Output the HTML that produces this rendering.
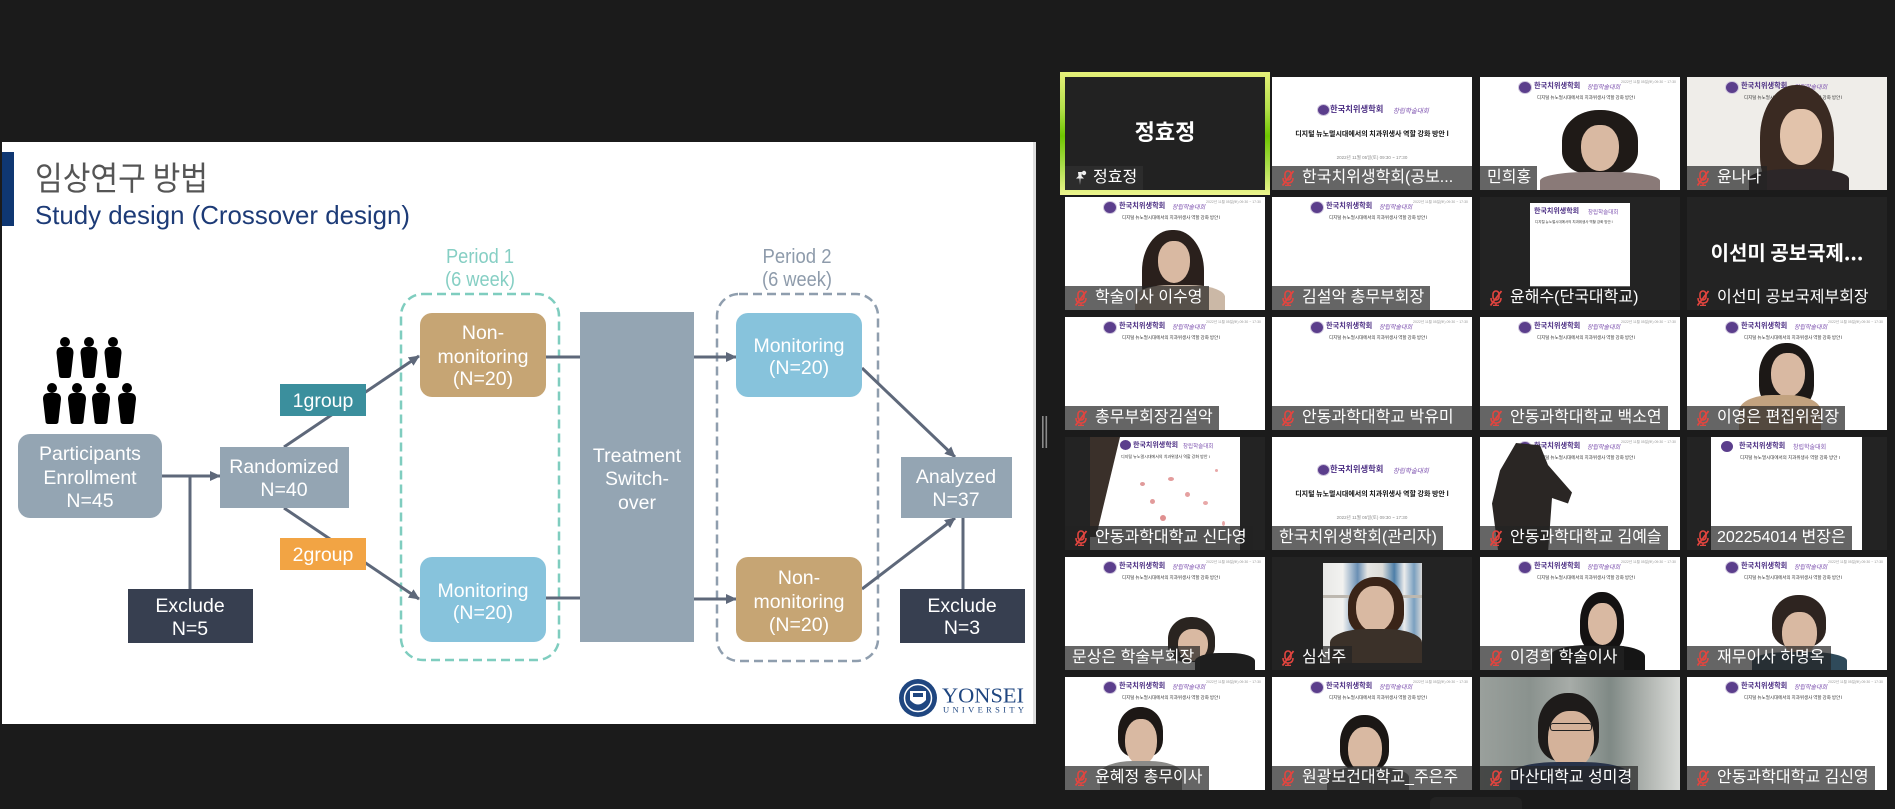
<!DOCTYPE html>
<html><head><meta charset="utf-8">
<style>
html,body{margin:0;padding:0}
body{width:1895px;height:809px;overflow:hidden;background:#1b1b1b;position:relative;font-family:"Liberation Sans","Noto Sans CJK KR",sans-serif}
.t{position:absolute;width:200px;height:113px;overflow:hidden;background:#fff}
.t.dk{background:#232323}
.lb{position:absolute;left:0;bottom:0;height:24px;line-height:24px;background:rgba(35,35,35,.7);color:#fff;font-size:16px;padding:0 6px 0 7px;white-space:nowrap;font-family:"Liberation Sans","Noto Sans CJK KR",sans-serif}
.lb.m{padding-left:30px}
.mic{position:absolute;left:8px;top:4px;width:16px;height:16px}
.lg{position:absolute;left:38px;top:4px;width:12px;height:11px;border-radius:50%;background:#5b3e8c;border:1px solid #cfc6dd}
.hb{position:absolute;left:54px;top:4px;font-size:7.2px;font-weight:bold;color:#4a2c82;font-family:"Noto Sans CJK KR",sans-serif;line-height:10px;white-space:nowrap}
.he{position:absolute;left:107px;top:6px;font-size:6px;color:#7b4fae;font-style:italic;font-family:"Noto Sans CJK KR",sans-serif;line-height:8px;white-space:nowrap}
.ht{position:absolute;left:57px;top:18px;font-size:4.5px;color:#333;font-family:"Noto Sans CJK KR",sans-serif;line-height:6px;white-space:nowrap}
.hdt{position:absolute;right:4px;top:3px;font-size:3.5px;color:#999;white-space:nowrap;line-height:5px}
.bl{position:absolute;left:45px;top:27px;width:11px;height:10px;border-radius:50%;background:#5b3e8c;border:1px solid #cfc6dd}
.bb{position:absolute;left:58px;top:26px;font-size:8.3px;font-weight:bold;color:#4a2c82;font-family:"Noto Sans CJK KR",sans-serif;line-height:12px;white-space:nowrap}
.be{position:absolute;left:121px;top:29px;font-size:6.5px;color:#7b4fae;font-style:italic;font-family:"Noto Sans CJK KR",sans-serif;line-height:9px;white-space:nowrap}
.bt{position:absolute;left:0;width:200px;top:53px;text-align:center;font-size:7px;font-weight:bold;color:#111;font-family:"Noto Sans CJK KR",sans-serif;line-height:9px;white-space:nowrap}
.bd{position:absolute;left:0;width:200px;top:78px;text-align:center;font-size:4.5px;color:#888;line-height:6px;white-space:nowrap}
.p{position:absolute}
.hair{background:#1f1a17;border-radius:48% 48% 35% 35%}
.face{background:#d9b9a2;border-radius:45% 45% 50% 50%}
.bod{border-radius:40% 40% 0 0}
</style></head><body>

<svg width="1895" height="809" style="position:absolute;left:0;top:0" xmlns="http://www.w3.org/2000/svg">
<defs>
<marker id="ar" markerWidth="11" markerHeight="10" refX="10" refY="5" orient="auto" markerUnits="userSpaceOnUse"><path d="M0,0 L11,5 L0,10 z" fill="#5e687a"/></marker>
</defs>
<rect x="2" y="142" width="1032" height="582" fill="#ffffff"/>
<rect x="1033" y="142" width="3" height="582" fill="#dedede"/>
<rect x="2" y="152" width="12" height="74" fill="#0f3772"/>
<text x="35" y="190" font-size="33" fill="#555555" textLength="173" lengthAdjust="spacingAndGlyphs" font-family="Noto Sans CJK KR, sans-serif">임상연구 방법</text>
<text x="35" y="224" font-size="26" fill="#1d3b77" textLength="375" lengthAdjust="spacingAndGlyphs" font-family="Liberation Sans, sans-serif">Study design (Crossover design)</text>

<g font-family="Liberation Sans, sans-serif" font-size="20" text-anchor="middle">
<text x="480" y="263" fill="#86cfc4" textLength="68" lengthAdjust="spacingAndGlyphs">Period 1</text>
<text x="480" y="286" fill="#86cfc4" textLength="70" lengthAdjust="spacingAndGlyphs">(6 week)</text>
<text x="797" y="263" fill="#8e9bab" textLength="69" lengthAdjust="spacingAndGlyphs">Period 2</text>
<text x="797" y="286" fill="#8e9bab" textLength="70" lengthAdjust="spacingAndGlyphs">(6 week)</text>
</g>
<rect x="401" y="294" width="158" height="366" rx="22" fill="none" stroke="#7fcdbf" stroke-width="2.5" stroke-dasharray="9 5"/>
<rect x="717" y="294" width="161" height="367" rx="22" fill="none" stroke="#8f9eae" stroke-width="2.5" stroke-dasharray="9 5"/>

<g fill="#000">
<circle cx="65" cy="342" r="5"/><circle cx="89" cy="342" r="5"/><circle cx="113" cy="342" r="5"/>
<path d="M56.5,353 Q56.5,347 62,347 L68,347 Q73.5,347 73.5,353 L71,375 Q71,378 68,378 L62,378 Q59,378 59,375 Z"/>
<path d="M80.5,353 Q80.5,347 86,347 L92,347 Q97.5,347 97.5,353 L95,375 Q95,378 92,378 L86,378 Q83,378 83,375 Z"/>
<path d="M104.5,353 Q104.5,347 110,347 L116,347 Q121.5,347 121.5,353 L119,375 Q119,378 116,378 L110,378 Q107,378 107,375 Z"/>
<circle cx="52" cy="388" r="5"/><circle cx="77" cy="388" r="5"/><circle cx="101" cy="388" r="5"/><circle cx="127" cy="388" r="5"/>
<path d="M43,399 Q43,393 49,393 L55,393 Q61,393 61,399 L58.5,421 Q58.5,424 55.5,424 L48.5,424 Q45.5,424 45.5,421 Z"/>
<path d="M68,399 Q68,393 74,393 L80,393 Q86,393 86,399 L83.5,421 Q83.5,424 80.5,424 L73.5,424 Q70.5,424 70.5,421 Z"/>
<path d="M92,399 Q92,393 98,393 L104,393 Q110,393 110,399 L107.5,421 Q107.5,424 104.5,424 L97.5,424 Q94.5,424 94.5,421 Z"/>
<path d="M118,399 Q118,393 124,393 L130,393 Q136,393 136,399 L133.5,421 Q133.5,424 130.5,424 L123.5,424 Q120.5,424 120.5,421 Z"/>
</g>

<g stroke="#5e687a" stroke-width="3" fill="none">
<line x1="162" y1="476" x2="220" y2="476" marker-end="url(#ar)"/>
<line x1="190" y1="476" x2="190" y2="589"/>
<line x1="284" y1="447" x2="419" y2="356" marker-end="url(#ar)"/>
<line x1="284" y1="508" x2="419" y2="599" marker-end="url(#ar)"/>
<line x1="546" y1="357" x2="580" y2="357"/>
<line x1="546" y1="598" x2="580" y2="598"/>
<line x1="694" y1="357" x2="736" y2="357" marker-end="url(#ar)"/>
<line x1="694" y1="599" x2="736" y2="599" marker-end="url(#ar)"/>
<line x1="862" y1="368" x2="955" y2="457" marker-end="url(#ar)"/>
<line x1="862" y1="589" x2="955" y2="518" marker-end="url(#ar)"/>
<line x1="963" y1="518" x2="963" y2="589"/>
</g>

<rect x="18" y="434" width="144" height="84" rx="12" fill="#94a5b3"/>
<rect x="220" y="447" width="129" height="61" fill="#94a5b3"/>
<rect x="128" y="589" width="125" height="54" fill="#373f50"/>
<rect x="280" y="384" width="86" height="32" fill="#3b8f9d"/>
<rect x="280" y="538" width="86" height="32" fill="#f2a444"/>
<rect x="420" y="313" width="126" height="84" rx="12" fill="#c6a574"/>
<rect x="420" y="557" width="126" height="85" rx="12" fill="#87c3dc"/>
<rect x="580" y="312" width="114" height="330" fill="#94a5b3"/>
<rect x="736" y="313" width="126" height="84" rx="12" fill="#87c3dc"/>
<rect x="736" y="557" width="126" height="85" rx="12" fill="#c6a574"/>
<rect x="901" y="457" width="111" height="61" fill="#94a5b3"/>
<rect x="900" y="589" width="125" height="54" fill="#373f50"/>

<g font-family="Liberation Sans, sans-serif" font-size="19.5" fill="#ffffff" text-anchor="middle">
<text x="90" y="460">Participants</text>
<text x="90" y="484">Enrollment</text>
<text x="90" y="507">N=45</text>
<text x="284" y="473">Randomized</text>
<text x="284" y="496">N=40</text>
<text x="190" y="612">Exclude</text>
<text x="190" y="635">N=5</text>
<text x="323" y="407">1group</text>
<text x="323" y="561">2group</text>
<text x="483" y="339">Non-</text>
<text x="483" y="363">monitoring</text>
<text x="483" y="385">(N=20)</text>
<text x="483" y="597">Monitoring</text>
<text x="483" y="619">(N=20)</text>
<text x="637" y="462">Treatment</text>
<text x="637" y="485">Switch-</text>
<text x="637" y="509">over</text>
<text x="799" y="352">Monitoring</text>
<text x="799" y="374">(N=20)</text>
<text x="799" y="584">Non-</text>
<text x="799" y="608">monitoring</text>
<text x="799" y="631">(N=20)</text>
<text x="956" y="483">Analyzed</text>
<text x="956" y="506">N=37</text>
<text x="962" y="612">Exclude</text>
<text x="962" y="634">N=3</text>
</g>

<circle cx="918" cy="698" r="19" fill="#1f4680"/>
<circle cx="918" cy="698" r="13.5" fill="none" stroke="#fff" stroke-width="1.5"/>
<path d="M910,691 L926,691 L926,700 Q918,709 910,700 Z" fill="#fff"/>
<rect x="913" y="693" width="10" height="4" fill="#1f4680"/>
<text x="942" y="702.5" font-family="Liberation Serif, serif" font-size="21" fill="#1f4680" textLength="82" lengthAdjust="spacingAndGlyphs">YONSEI</text>
<text x="943" y="712.5" font-family="Liberation Serif, serif" font-size="8.5" fill="#1f4680" textLength="81" lengthAdjust="spacing">UNIVERSITY</text>

<rect x="1042" y="416" width="1.6" height="32" fill="#8a8a8a"/>
<rect x="1045.5" y="416" width="1.6" height="32" fill="#8a8a8a"/>
<rect x="1430" y="797" width="92" height="20" rx="6" fill="#232323"/>
</svg>

<svg width="0" height="0" style="position:absolute">
<defs>
<g id="mc">
<rect x="5" y="1" width="6" height="9" rx="3" fill="none" stroke="#e2453f" stroke-width="1.6"/>
<path d="M3,8 Q3,13 8,13 Q13,13 13,8 M8,13 L8,15.5 M5,15.5 L11,15.5" fill="none" stroke="#e2453f" stroke-width="1.5"/>
<line x1="13.5" y1="1" x2="2.5" y2="15.5" stroke="#e2453f" stroke-width="1.8"/>
</g>
</defs>
</svg>

<div style="position:absolute;left:1060px;top:72px;width:210px;height:123px;background:linear-gradient(to bottom,#e6f07a 0%,#b4e04a 30%,#6ec600 52%,#a8dc48 75%,#eef58e 100%)"></div>
<div class="t dk" style="left:1065px;top:77px;background:#222">
  <div style="position:absolute;left:0;top:40px;width:200px;text-align:center;color:#fff;font-size:22px;font-weight:bold;line-height:28px;font-family:'Noto Sans CJK KR',sans-serif">정효정</div>
  <div class="lb" style="background:#2c2c2c;padding-left:28px"><svg class="mic" viewBox="0 0 16 16" style="left:7px"><path d="M6,2 L10,2 L9.5,6 L12,8.5 L4,8.5 L6.5,6 Z M7.5,8.5 L8,15 L8.5,8.5" fill="#eee"/><circle cx="12" cy="3" r="2.2" fill="#eee"/></svg>정효정</div>
</div>

<div class="t" style="left:1272px;top:77px">
  <i class="bl"></i><span class="bb">한국치위생학회</span><span class="be">창립학술대회</span>
  <div class="bt">디지털 뉴노멀시대에서의 치과위생사 역할 강화 방안 I</div>
  <div class="bd">2022년 11월 05일(토) 09:30 ~ 17:30</div>
  <div class="lb m" style="right:0"><svg class="mic" viewBox="0 0 16 16"><use href="#mc"/></svg>한국치위생학회(공보...</div>
</div>

<div class="t" style="left:1480px;top:77px">
  <i class="lg"></i><span class="hb">한국치위생학회</span><span class="he">창립학술대회</span><div class="ht">디지털 뉴노멀시대에서의 치과위생사 역할 강화 방안 I</div><div class="hdt">2022년 11월 05일(토) 09:30 ~ 17:30</div>
  <div class="p hair" style="left:82px;top:33px;width:76px;height:64px"></div>
  <div class="p face" style="left:101px;top:48px;width:38px;height:46px"></div>
  <div class="p bod" style="left:60px;top:95px;width:120px;height:22px;background:#8a7a78"></div>
  <div class="lb">민희홍</div>
</div>

<div class="t" style="left:1687px;top:77px;background:#efede9">
  <i class="lg"></i><span class="hb">한국치위생학회</span><span class="he">창립학술대회</span><div class="ht">디지털 뉴노멀시대에서의 치과위생사 역할 강화 방안 I</div>
  <div class="p hair" style="left:73px;top:8px;width:74px;height:110px;background:#3a2a22"></div>
  <div class="p face" style="left:93px;top:32px;width:42px;height:56px;background:#e2c3ab"></div>
  <div class="p bod" style="left:62px;top:92px;width:100px;height:25px;background:#2c2628"></div>
  <div class="lb m"><svg class="mic" viewBox="0 0 16 16"><use href="#mc"/></svg>윤나나</div>
</div>

<div class="t" style="left:1065px;top:197px">
  <i class="lg"></i><span class="hb">한국치위생학회</span><span class="he">창립학술대회</span><div class="ht">디지털 뉴노멀시대에서의 치과위생사 역할 강화 방안 I</div><div class="hdt">2022년 11월 05일(토) 09:30 ~ 17:30</div>
  <div class="p hair" style="left:77px;top:33px;width:62px;height:85px;background:#2a201c"></div>
  <div class="p face" style="left:93px;top:44px;width:32px;height:42px"></div>
  <div class="p bod" style="left:70px;top:88px;width:90px;height:30px;background:#cbb8a6"></div>
  <div class="lb m"><svg class="mic" viewBox="0 0 16 16"><use href="#mc"/></svg>학술이사 이수영</div>
</div>

<div class="t" style="left:1272px;top:197px">
  <i class="lg"></i><span class="hb">한국치위생학회</span><span class="he">창립학술대회</span><div class="ht">디지털 뉴노멀시대에서의 치과위생사 역할 강화 방안 I</div><div class="hdt">2022년 11월 05일(토) 09:30 ~ 17:30</div>
  <div class="lb m"><svg class="mic" viewBox="0 0 16 16"><use href="#mc"/></svg>김설악 총무부회장</div>
</div>

<div class="t dk" style="left:1480px;top:197px">
  <div class="p" style="left:50px;top:6px;width:100px;height:84px;background:#fff">
    <span style="position:absolute;left:4px;top:3px;font-size:7px;font-weight:bold;color:#4a2c82;font-family:'Noto Sans CJK KR',sans-serif;line-height:10px;white-space:nowrap">한국치위생학회</span>
    <span style="position:absolute;left:58px;top:5px;font-size:5.5px;color:#7b4fae;font-family:'Noto Sans CJK KR',sans-serif;line-height:8px;white-space:nowrap">창립학술대회</span>
    <span style="position:absolute;left:5px;top:17px;font-size:3.5px;color:#333;white-space:nowrap;line-height:5px">디지털 뉴노멀시대에서의 치과위생사 역할 강화 방안 I</span>
  </div>
  <div class="lb m"><svg class="mic" viewBox="0 0 16 16"><use href="#mc"/></svg>윤해수(단국대학교)</div>
</div>

<div class="t dk" style="left:1687px;top:197px">
  <div style="position:absolute;left:0;top:41px;width:200px;text-align:center;color:#fff;font-size:20px;font-weight:bold;line-height:28px;font-family:'Noto Sans CJK KR',sans-serif;white-space:nowrap">이선미 공보국제...</div>
  <div class="lb m"><svg class="mic" viewBox="0 0 16 16"><use href="#mc"/></svg>이선미 공보국제부회장</div>
</div>

<div class="t" style="left:1065px;top:317px">
  <i class="lg"></i><span class="hb">한국치위생학회</span><span class="he">창립학술대회</span><div class="ht">디지털 뉴노멀시대에서의 치과위생사 역할 강화 방안 I</div><div class="hdt">2022년 11월 05일(토) 09:30 ~ 17:30</div>
  <div class="lb m"><svg class="mic" viewBox="0 0 16 16"><use href="#mc"/></svg>총무부회장김설악</div>
</div>
<div class="t" style="left:1272px;top:317px">
  <i class="lg"></i><span class="hb">한국치위생학회</span><span class="he">창립학술대회</span><div class="ht">디지털 뉴노멀시대에서의 치과위생사 역할 강화 방안 I</div><div class="hdt">2022년 11월 05일(토) 09:30 ~ 17:30</div>
  <div class="lb m" style="right:0"><svg class="mic" viewBox="0 0 16 16"><use href="#mc"/></svg>안동과학대학교 박유미</div>
</div>
<div class="t" style="left:1480px;top:317px">
  <i class="lg"></i><span class="hb">한국치위생학회</span><span class="he">창립학술대회</span><div class="ht">디지털 뉴노멀시대에서의 치과위생사 역할 강화 방안 I</div><div class="hdt">2022년 11월 05일(토) 09:30 ~ 17:30</div>
  <div class="lb m"><svg class="mic" viewBox="0 0 16 16"><use href="#mc"/></svg>안동과학대학교 백소연</div>
</div>
<div class="t" style="left:1687px;top:317px">
  <i class="lg"></i><span class="hb">한국치위생학회</span><span class="he">창립학술대회</span><div class="ht">디지털 뉴노멀시대에서의 치과위생사 역할 강화 방안 I</div><div class="hdt">2022년 11월 05일(토) 09:30 ~ 17:30</div>
  <div class="p hair" style="left:72px;top:26px;width:55px;height:66px;background:#1c1816"></div>
  <div class="p face" style="left:84px;top:36px;width:34px;height:44px"></div>
  <div class="p bod" style="left:52px;top:78px;width:82px;height:40px;background:#c2a27f"></div>
  <div class="lb m"><svg class="mic" viewBox="0 0 16 16"><use href="#mc"/></svg>이영은 편집위원장</div>
</div>

<div class="t dk" style="left:1065px;top:437px">
  <div class="p" style="left:25px;top:0;width:150px;height:113px;background:#fff"></div>
  <div class="p" style="left:25px;top:0;width:30px;height:100px;background:#3a302a;clip-path:polygon(0 0,100% 0,20% 100%,0 100%)"></div>
  <span class="p" style="left:55px;top:3px;width:11px;height:10px;border-radius:50%;background:#5b3e8c"></span>
  <span class="p" style="left:68px;top:3px;font-size:7px;font-weight:bold;color:#4a2c82;font-family:'Noto Sans CJK KR',sans-serif;line-height:10px;white-space:nowrap">한국치위생학회</span>
  <span class="p" style="left:118px;top:5px;font-size:5.5px;color:#7b4fae;font-family:'Noto Sans CJK KR',sans-serif;line-height:8px;white-space:nowrap">창립학술대회</span>
  <span class="p" style="left:56px;top:17px;font-size:4px;color:#333;white-space:nowrap;line-height:5px">디지털 뉴노멀시대에서의 치과위생사 역할 강화 방안 I</span>
  <i class="p" style="left:75px;top:45px;width:5px;height:4px;background:#e09a9a;border-radius:50%"></i>
  <i class="p" style="left:85px;top:62px;width:5px;height:5px;background:#e29b9b;border-radius:50%"></i>
  <i class="p" style="left:103px;top:40px;width:6px;height:4px;background:#e39c9c;border-radius:50%"></i>
  <i class="p" style="left:120px;top:55px;width:5px;height:5px;background:#e5a0a0;border-radius:50%"></i>
  <i class="p" style="left:95px;top:78px;width:6px;height:6px;background:#e09090;border-radius:50%"></i>
  <i class="p" style="left:138px;top:64px;width:5px;height:4px;background:#e8a8a8;border-radius:50%"></i>
  <i class="p" style="left:150px;top:32px;width:3px;height:3px;background:#e8a8a8;border-radius:50%"></i>
  <i class="p" style="left:157px;top:84px;width:3px;height:5px;background:#e8a8a8;border-radius:50%"></i>
  <div class="lb m" style="background:rgba(35,35,35,.78)"><svg class="mic" viewBox="0 0 16 16"><use href="#mc"/></svg>안동과학대학교 신다영</div>
</div>

<div class="t" style="left:1272px;top:437px">
  <i class="bl"></i><span class="bb">한국치위생학회</span><span class="be">창립학술대회</span>
  <div class="bt">디지털 뉴노멀시대에서의 치과위생사 역할 강화 방안 I</div>
  <div class="bd">2022년 11월 05일(토) 09:30 ~ 17:30</div>
  <div class="lb">한국치위생학회(관리자)</div>
</div>

<div class="t" style="left:1480px;top:437px">
  <i class="lg"></i><span class="hb">한국치위생학회</span><span class="he">창립학술대회</span><div class="ht">디지털 뉴노멀시대에서의 치과위생사 역할 강화 방안 I</div><div class="hdt">2022년 11월 05일(토) 09:30 ~ 17:30</div>
  <div class="p" style="left:12px;top:6px;width:80px;height:110px;background:#2a2624;clip-path:polygon(30% 0,60% 2%,70% 20%,100% 45%,95% 55%,75% 50%,70% 100%,8% 100%,0 55%,10% 25%)"></div>
  <div class="lb m"><svg class="mic" viewBox="0 0 16 16"><use href="#mc"/></svg>안동과학대학교 김예슬</div>
</div>

<div class="t dk" style="left:1687px;top:437px">
  <div class="p" style="left:24px;top:0;width:151px;height:113px;background:#fff"></div>
  <span class="p" style="left:34px;top:4px;width:12px;height:11px;border-radius:50%;background:#5b3e8c"></span>
  <span class="p" style="left:52px;top:4px;font-size:7.2px;font-weight:bold;color:#4a2c82;font-family:'Noto Sans CJK KR',sans-serif;line-height:10px;white-space:nowrap">한국치위생학회</span>
  <span class="p" style="left:106px;top:6px;font-size:6px;color:#7b4fae;font-family:'Noto Sans CJK KR',sans-serif;line-height:8px;white-space:nowrap">창립학술대회</span>
  <span class="p" style="left:53px;top:18px;font-size:4.5px;color:#333;white-space:nowrap;line-height:6px">디지털 뉴노멀시대에서의 치과위생사 역할 강화 방안 I</span>
  <div class="lb m"><svg class="mic" viewBox="0 0 16 16"><use href="#mc"/></svg>202254014 변장은</div>
</div>

<div class="t" style="left:1065px;top:557px">
  <i class="lg"></i><span class="hb">한국치위생학회</span><span class="he">창립학술대회</span><div class="ht">디지털 뉴노멀시대에서의 치과위생사 역할 강화 방안 I</div><div class="hdt">2022년 11월 05일(토) 09:30 ~ 17:30</div>
  <div class="p hair" style="left:103px;top:60px;width:47px;height:45px;background:#2a2420"></div>
  <div class="p face" style="left:113px;top:72px;width:30px;height:32px"></div>
  <div class="p bod" style="left:130px;top:96px;width:60px;height:20px;background:#1e1e1e"></div>
  <div class="lb">문상은 학술부회장</div>
</div>

<div class="t dk" style="left:1272px;top:557px">
  <div class="p" style="left:51px;top:6px;width:99px;height:100px;background:linear-gradient(90deg,#e8e8e6 0%,#f2f2f0 20%,#6a8fb4 35%,#e6e6e4 45%,#dcdcd8 60%,#4d7ea8 72%,#ececec 82%,#7aa0c0 92%,#d8d8d8 100%)"></div>
  <div class="p" style="left:51px;top:38px;width:99px;height:3px;background:#bdb8b0"></div>
  <div class="p hair" style="left:76px;top:20px;width:56px;height:58px;background:#3a2418"></div>
  <div class="p face" style="left:84px;top:29px;width:38px;height:46px"></div>
  <div class="p bod" style="left:58px;top:72px;width:92px;height:34px;background:#3b3129"></div>
  <div class="lb m"><svg class="mic" viewBox="0 0 16 16"><use href="#mc"/></svg>심선주</div>
</div>

<div class="t" style="left:1480px;top:557px">
  <i class="lg"></i><span class="hb">한국치위생학회</span><span class="he">창립학술대회</span><div class="ht">디지털 뉴노멀시대에서의 치과위생사 역할 강화 방안 I</div><div class="hdt">2022년 11월 05일(토) 09:30 ~ 17:30</div>
  <div class="p hair" style="left:100px;top:35px;width:44px;height:60px;background:#141212"></div>
  <div class="p face" style="left:108px;top:46px;width:29px;height:42px"></div>
  <div class="p bod" style="left:70px;top:88px;width:95px;height:28px;background:#151515"></div>
  <div class="lb m"><svg class="mic" viewBox="0 0 16 16"><use href="#mc"/></svg>이경희 학술이사</div>
</div>

<div class="t" style="left:1687px;top:557px">
  <i class="lg"></i><span class="hb">한국치위생학회</span><span class="he">창립학술대회</span><div class="ht">디지털 뉴노멀시대에서의 치과위생사 역할 강화 방안 I</div><div class="hdt">2022년 11월 05일(토) 09:30 ~ 17:30</div>
  <div class="p hair" style="left:85px;top:38px;width:54px;height:52px;background:#2e2420"></div>
  <div class="p face" style="left:95px;top:55px;width:35px;height:44px"></div>
  <div class="p bod" style="left:65px;top:95px;width:95px;height:22px;background:#2f4a5a"></div>
  <div class="lb m"><svg class="mic" viewBox="0 0 16 16"><use href="#mc"/></svg>재무이사 하명옥</div>
</div>

<div class="t" style="left:1065px;top:677px">
  <i class="lg"></i><span class="hb">한국치위생학회</span><span class="he">창립학술대회</span><div class="ht">디지털 뉴노멀시대에서의 치과위생사 역할 강화 방안 I</div><div class="hdt">2022년 11월 05일(토) 09:30 ~ 17:30</div>
  <div class="p hair" style="left:53px;top:30px;width:45px;height:50px;background:#1d1816"></div>
  <div class="p face" style="left:60px;top:42px;width:32px;height:46px"></div>
  <div class="p bod" style="left:35px;top:84px;width:82px;height:32px;background:#8a8a88"></div>
  <div class="lb m"><svg class="mic" viewBox="0 0 16 16"><use href="#mc"/></svg>윤혜정 총무이사</div>
</div>

<div class="t" style="left:1272px;top:677px">
  <i class="lg"></i><span class="hb">한국치위생학회</span><span class="he">창립학술대회</span><div class="ht">디지털 뉴노멀시대에서의 치과위생사 역할 강화 방안 I</div><div class="hdt">2022년 11월 05일(토) 09:30 ~ 17:30</div>
  <div class="p hair" style="left:68px;top:38px;width:49px;height:56px;background:#1b1715"></div>
  <div class="p face" style="left:76px;top:50px;width:34px;height:46px"></div>
  <div class="p bod" style="left:55px;top:90px;width:82px;height:26px;background:#7b7b7a"></div>
  <div class="lb m" style="right:0"><svg class="mic" viewBox="0 0 16 16"><use href="#mc"/></svg>원광보건대학교_주은주</div>
</div>

<div class="t" style="left:1480px;top:677px;background:linear-gradient(90deg,#9aa09c 0%,#8a928e 25%,#a7aca8 45%,#7f8985 65%,#b4b8b4 85%,#d9dbd8 100%)">
  <div class="p hair" style="left:58px;top:16px;width:61px;height:68px;background:#1e1b1a"></div>
  <div class="p face" style="left:68px;top:34px;width:46px;height:58px;background:#d4b29a"></div>
  <div class="p" style="left:70px;top:46px;width:42px;height:8px;border:1.5px solid #222;border-radius:3px;box-sizing:border-box"></div>
  <div class="p bod" style="left:30px;top:85px;width:120px;height:32px;background:#28334a"></div>
  <div class="lb m"><svg class="mic" viewBox="0 0 16 16"><use href="#mc"/></svg>마산대학교 성미경</div>
</div>

<div class="t" style="left:1687px;top:677px">
  <i class="lg"></i><span class="hb">한국치위생학회</span><span class="he">창립학술대회</span><div class="ht">디지털 뉴노멀시대에서의 치과위생사 역할 강화 방안 I</div><div class="hdt">2022년 11월 05일(토) 09:30 ~ 17:30</div>
  <div class="lb m"><svg class="mic" viewBox="0 0 16 16"><use href="#mc"/></svg>안동과학대학교 김신영</div>
</div>

</body></html>
